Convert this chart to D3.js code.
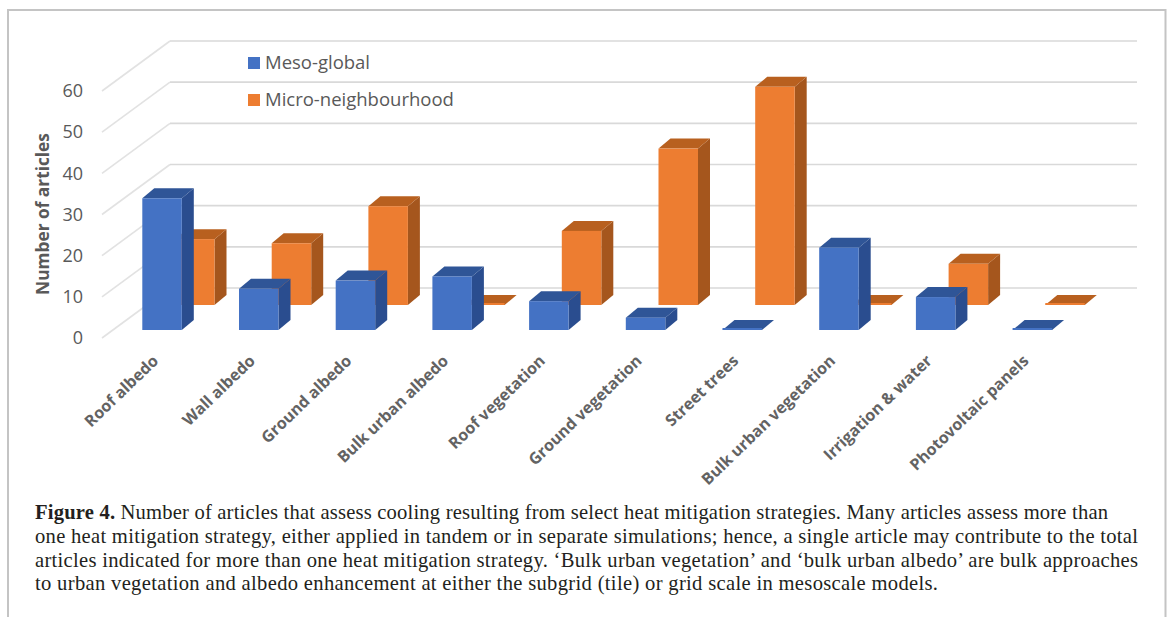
<!DOCTYPE html>
<html>
<head>
<meta charset="utf-8">
<script src="https://cdn.jsdelivr.net/npm/d3@7/dist/d3.min.js"></script>
<style>
  html, body { margin: 0; padding: 0; background: #fff; }
  svg { display: block; }
  text { font-family: "Open Sans", sans-serif; }
  .caption text { font-family: "Liberation Serif", serif; }
</style>
</head>
<body>
<svg id="chart" width="1167" height="617"></svg>
<script>
// Article counts per heat mitigation strategy
const categories = ["Roof albedo", "Wall albedo", "Ground albedo", "Bulk urban albedo", "Roof vegetation",
  "Ground vegetation", "Street trees", "Bulk urban vegetation", "Irrigation & water", "Photovoltaic panels"];
const mesoGlobal = [32, 10, 12, 13, 7, 3, 0, 20, 8, 0];
const microNeighbourhood = [16, 15, 24, 0, 18, 38, 53, 0, 10, 0];
const yTicks = [0, 10, 20, 30, 40, 50, 60];
const captionLines = [
  ["Figure 4.", " Number of articles that assess cooling resulting from select heat mitigation strategies. Many articles assess more than"],
  ["", "one heat mitigation strategy, either applied in tandem or in separate simulations; hence, a single article may contribute to the total"],
  ["", "articles indicated for more than one heat mitigation strategy. ‘Bulk urban vegetation’ and ‘bulk urban albedo’ are bulk approaches"],
  ["", "to urban vegetation and albedo enhancement at either the subgrid (tile) or grid scale in mesoscale models."]
];
const captionWidths = [1073, 1103, 1103, 903];

const svg = d3.select("#chart");

// Oblique projection: the floor recedes up and to the right
const floorDx = 68, floorDy = 50;
const barDx = 12, barDy = 10;
const x = d3.scaleBand(categories, [102, 1069]);
const y = d3.scaleLinear([0, 60], [338, 91]);
const wallRight = 1137;
const barWidth = 39.5;

// Frame, open at the bottom
svg.append("path")
  .attr("d", "M8,617V10H1165.5V617")
  .attr("fill", "none").attr("stroke", "#c4c4c4").attr("stroke-width", 2);

// Gridlines along the side wall and back wall
const grid = svg.append("g");
grid.selectAll("line.side").data(yTicks).join("line").attr("class", "side")
  .attr("x1", x.range()[0]).attr("y1", d => y(d))
  .attr("x2", x.range()[0] + floorDx).attr("y2", d => y(d) - floorDy)
  .attr("stroke", "#e2e2e2").attr("stroke-width", 1.6);
grid.selectAll("line.back").data(yTicks).join("line").attr("class", "back")
  .attr("x1", x.range()[0] + floorDx).attr("y1", d => y(d) - floorDy)
  .attr("x2", wallRight).attr("y2", d => y(d) - floorDy)
  .attr("stroke", "#d9d9d9").attr("stroke-width", 1.6);

// Draws one series of 3D columns standing on the floor at the given depth
function drawSeries(values, offsetX, depth, colors) {
  const g = svg.append("g");
  const rows = categories.map((c, i) => ({
    left: x(c) + offsetX,
    base: y(0) - depth,
    top: y(values[i]) - depth
  }));
  // Right-hand face
  g.selectAll("path.side").data(rows).join("path").attr("class", "side")
    .attr("fill", colors.side)
    .attr("d", d => {
      const r = d.left + barWidth;
      return `M${r},${d.base}L${r + barDx},${d.base - barDy}L${r + barDx},${d.top - barDy}L${r},${d.top}Z`;
    });
  // Top face
  g.selectAll("path.top").data(rows).join("path").attr("class", "top")
    .attr("fill", colors.top)
    .attr("d", d => {
      const r = d.left + barWidth;
      return `M${d.left},${d.top}L${d.left + barDx},${d.top - barDy}L${r + barDx},${d.top - barDy}L${r},${d.top}Z`;
    });
  // Front face; empty columns keep a thin sliver
  g.selectAll("rect").data(rows).join("rect")
    .attr("fill", colors.front)
    .attr("x", d => d.left).attr("width", barWidth)
    .attr("y", d => Math.min(d.top, d.base - 2))
    .attr("height", d => Math.max(d.base - d.top, 2));
}

drawSeries(microNeighbourhood, 73, 33, { front: "#ed7d31", side: "#a5561d", top: "#b8601f" });
drawSeries(mesoGlobal, 40.3, 8, { front: "#4472c4", side: "#2a4d8f", top: "#2f5597" });

// Value axis
const axis = d3.axisLeft(y).tickValues(yTicks).tickSize(0).tickPadding(0);
const axisG = svg.append("g").attr("transform", "translate(83,0)").call(axis);
axisG.select(".domain").remove();
axisG.selectAll("text").attr("fill", "#595959").attr("font-size", 18)
  .style("font-family", '"Open Sans", sans-serif');

svg.append("text")
  .attr("transform", "translate(49,214) rotate(-90)")
  .attr("text-anchor", "middle")
  .attr("font-size", 17.3).attr("font-weight", 700).attr("fill", "#595959")
  .text("Number of articles");

// Category labels, slanted up to the right
svg.append("g").selectAll("text").data(categories).join("text")
  .attr("transform", d => `translate(${x(d) + x.bandwidth() / 2 + 9},362) rotate(-44)`)
  .attr("text-anchor", "end")
  .attr("font-size", 16).attr("font-weight", 700).attr("fill", "#636363")
  .text(d => d);

// Legend
const legend = [["Meso-global", "#4472c4", 63], ["Micro-neighbourhood", "#ed7d31", 100]];
const legendG = svg.append("g").selectAll("g").data(legend).join("g");
legendG.append("rect")
  .attr("x", 248).attr("y", d => d[2] - 6).attr("width", 12).attr("height", 12)
  .attr("fill", d => d[1]);
legendG.append("text")
  .attr("x", 265).attr("y", d => d[2] + 6)
  .attr("font-size", 18.5).attr("fill", "#595959")
  .text(d => d[0]);

// Caption
const capText = svg.append("g").attr("class", "caption").selectAll("text").data(captionLines).join("text")
  .attr("x", 35).attr("y", (d, i) => 519 + i * 23.8)
  .attr("font-size", 20.6).attr("fill", "#231f20")
  .attr("textLength", (d, i) => captionWidths[i]).attr("lengthAdjust", "spacing");
capText.append("tspan").attr("font-weight", 700).text(d => d[0]);
capText.append("tspan").text(d => d[1]);
</script>
</body>
</html>
